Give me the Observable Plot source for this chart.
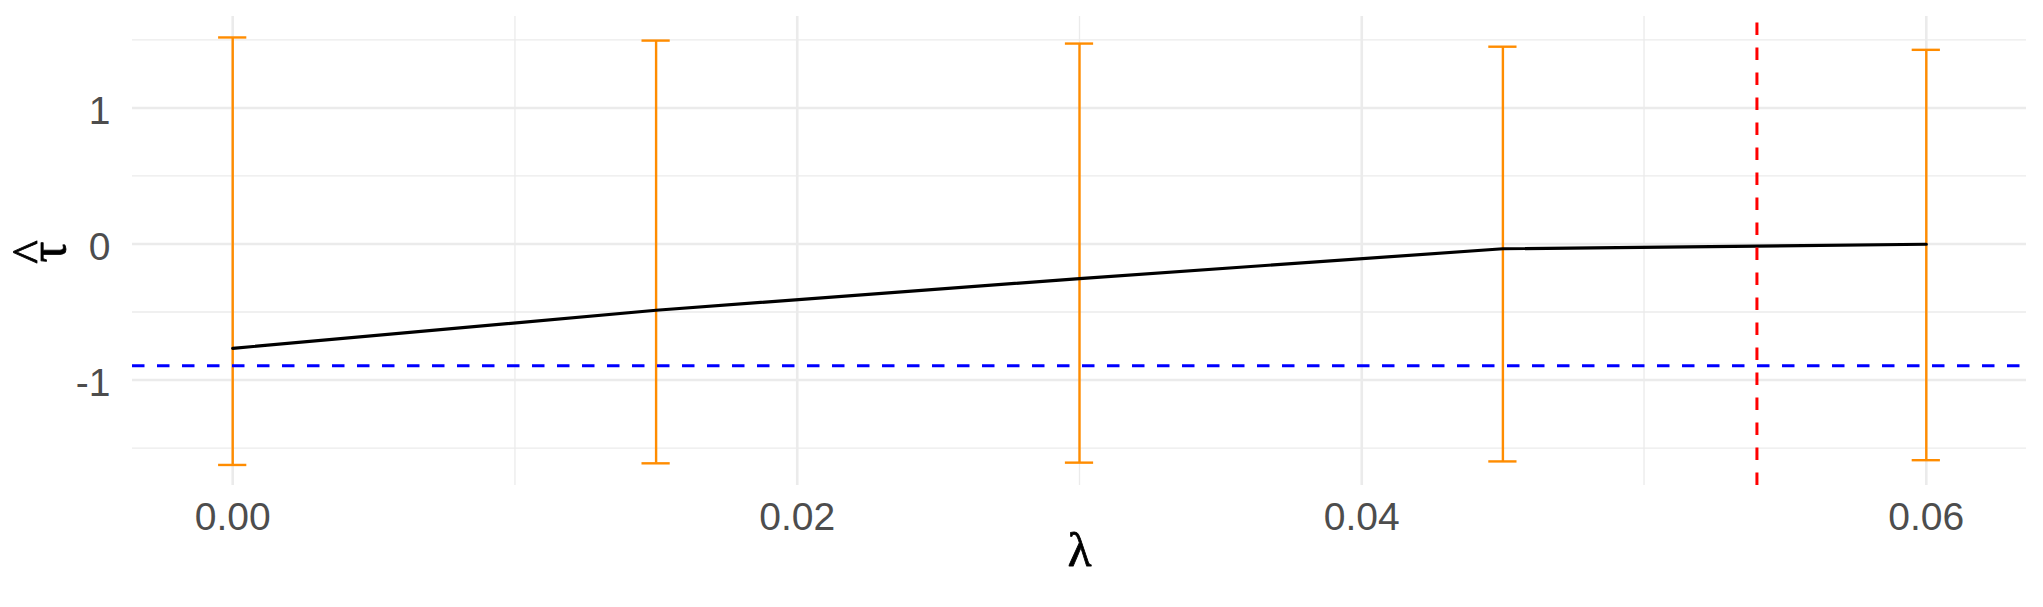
<!DOCTYPE html>
<html>
<head>
<meta charset="utf-8">
<script src="https://cdn.jsdelivr.net/npm/d3@7"></script>
<script src="https://cdn.jsdelivr.net/npm/@observablehq/plot@0.6"></script>
<style>
  html, body { margin: 0; padding: 0; background: #ffffff; }
  #chart svg { display: block; }
</style>
</head>
<body>
<div id="chart"></div>
<script>
// ---- data ----
const lambda = [0, 0.015, 0.03, 0.045, 0.06];
const tauHat = [-0.767, -0.487, -0.254, -0.035, -0.002];
const lower  = [-1.624, -1.612, -1.607, -1.598, -1.589];
const upper  = [1.518, 1.495, 1.473, 1.450, 1.427];
const hlineValue = -0.894;   // blue dashed reference
const vlineValue = 0.054;    // red dashed reference
const capWidth = 0.001;

const xTicks = [0, 0.02, 0.04, 0.06];
const xMinor = [0.01, 0.03, 0.05];
const yTicks = [-1, 0, 1];
const yMinor = [-1.5, -0.5, 0.5, 1.5];

const xTitle = "λ";
const yTitle = "τ̂";

const xDomain = [-0.00355, 0.06355];
const yDomain = [-1.775, 1.672];

const rows = lambda.map((l, i) => ({lambda: l, tau: tauHat[i], lo: lower[i], hi: upper[i]}));

const grid = "#EBEBEB";
const tickColor = "#4D4D4D";
const serif = "Liberation Serif, DejaVu Serif, serif";
const sans = "Liberation Sans, Arial, sans-serif";

const chart = Plot.plot({
  width: 2043,
  height: 607,
  marginLeft: 132,
  marginRight: 17,
  marginTop: 16,
  marginBottom: 122,
  style: {background: "#ffffff", overflow: "visible"},
  x: {domain: xDomain, axis: null},
  y: {domain: yDomain, axis: null},
  marks: [
    // grid
    Plot.ruleY(yMinor, {stroke: grid, strokeWidth: 1.3}),
    Plot.ruleX(xMinor, {stroke: grid, strokeWidth: 1.3}),
    Plot.ruleY(yTicks, {stroke: grid, strokeWidth: 2.6}),
    Plot.ruleX(xTicks, {stroke: grid, strokeWidth: 2.6}),
    // axes (labels only)
    Plot.axisX(xTicks, {
      tickSize: 0, tickPadding: 16.6, tickFormat: d3.format(".2f"),
      fontSize: 39, fill: tickColor, fontFamily: sans, label: null
    }),
    Plot.axisY(yTicks, {
      tickSize: 0, tickPadding: 22, tickFormat: d => String(d), dy: 3.5,
      fontSize: 39, fill: tickColor, fontFamily: sans, label: null
    }),
    // error bars
    Plot.ruleX(rows, {x: "lambda", y1: "lo", y2: "hi", stroke: "#FF8C00", strokeWidth: 2.4}),
    Plot.ruleY(rows, {y: "hi", x1: d => d.lambda - capWidth / 2, x2: d => d.lambda + capWidth / 2, stroke: "#FF8C00", strokeWidth: 2.4}),
    Plot.ruleY(rows, {y: "lo", x1: d => d.lambda - capWidth / 2, x2: d => d.lambda + capWidth / 2, stroke: "#FF8C00", strokeWidth: 2.4}),
    // estimate line
    Plot.line(rows, {x: "lambda", y: "tau", stroke: "black", strokeWidth: 3.2, strokeLinejoin: "round"}),
    // reference lines
    Plot.ruleY([hlineValue], {stroke: "blue", strokeWidth: 3, strokeDasharray: "12.5,12.5"}),
    Plot.ruleX([vlineValue], {y1: yDomain[0], y2: yDomain[1], stroke: "red", strokeWidth: 3, strokeDasharray: "12.5,12.5"}),
    // axis titles
    Plot.text([xTitle], {frameAnchor: "bottom", dy: 80.3, fontSize: 49, fill: "black", fontFamily: serif, stroke: "black", strokeWidth: 0.8}),
    Plot.text([yTitle], {frameAnchor: "left", dx: -84, dy: 1, rotate: -90, fontSize: 52, fill: "black", fontFamily: serif, stroke: "black", strokeWidth: 0.8})
  ]
});

// draw the y title as τ with a wide hat (plotmath-like hat(tau)), still one text element
d3.select(chart).selectAll("text")
  .filter(function() { return this.textContent === yTitle; })
  .each(function() {
    const t = d3.select(this);
    t.text(null).attr("dy", null).attr("text-anchor", "middle");
    t.append("tspan").attr("x", 0).attr("y", 0).attr("dy", 16).text("τ");
    t.append("tspan").attr("x", 0).attr("y", 0).attr("dy", 16 - 18).attr("font-size", 50).text("^");
  });

document.getElementById("chart").appendChild(chart);
</script>
</body>
</html>
